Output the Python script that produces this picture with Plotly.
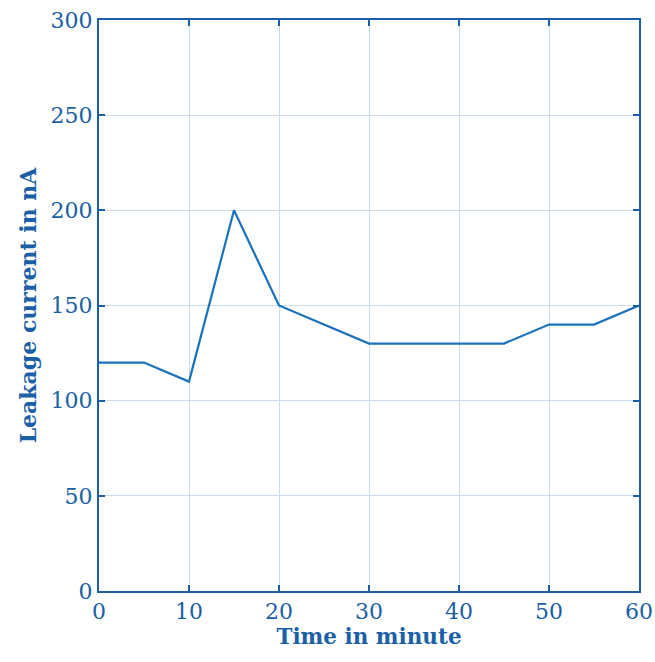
import plotly.graph_objects as go

time_min = [0, 5, 10, 15, 20, 25, 30, 35, 40, 45, 50, 55, 60]
leakage_nA = [120, 120, 110, 200, 150, 140, 130, 130, 130, 130, 140, 140, 150]
x_ticks = [0, 10, 20, 30, 40, 50, 60]
y_ticks = [0, 50, 100, 150, 200, 250, 300]

axis_color = "#1b5fa6"
line_color = "#1a72bd"
grid_color = "#ccdbeb"
font_family = "DejaVu Serif"

fig = go.Figure()
fig.add_trace(go.Scatter(x=time_min, y=leakage_nA, mode="lines",
                         line=dict(color=line_color, width=2.2), showlegend=False))

axis_common = dict(
    showline=True, linecolor=axis_color, linewidth=2, mirror="ticks",
    ticks="inside", ticklen=6, tickwidth=2, tickcolor=axis_color,
    showgrid=True, gridcolor=grid_color, gridwidth=1,
    zeroline=False, automargin=False,
    tickfont=dict(family=font_family, size=22, color=axis_color),
)

fig.update_layout(
    width=655, height=662,
    margin=dict(l=99, r=16, t=20, b=71),
    plot_bgcolor="white", paper_bgcolor="white",
    xaxis=dict(range=[0, 60], tickvals=x_ticks,
               title=dict(text="<b>Time in minute</b>", standoff=6,
                          font=dict(family=font_family, size=21.5, color=axis_color)),
               **axis_common),
    yaxis=dict(range=[0, 300], tickvals=y_ticks,
               title=dict(text="<b>Leakage current in nA</b>", standoff=8,
                          font=dict(family=font_family, size=22, color=axis_color)),
               **axis_common),
)

fig.write_html("out.html")
